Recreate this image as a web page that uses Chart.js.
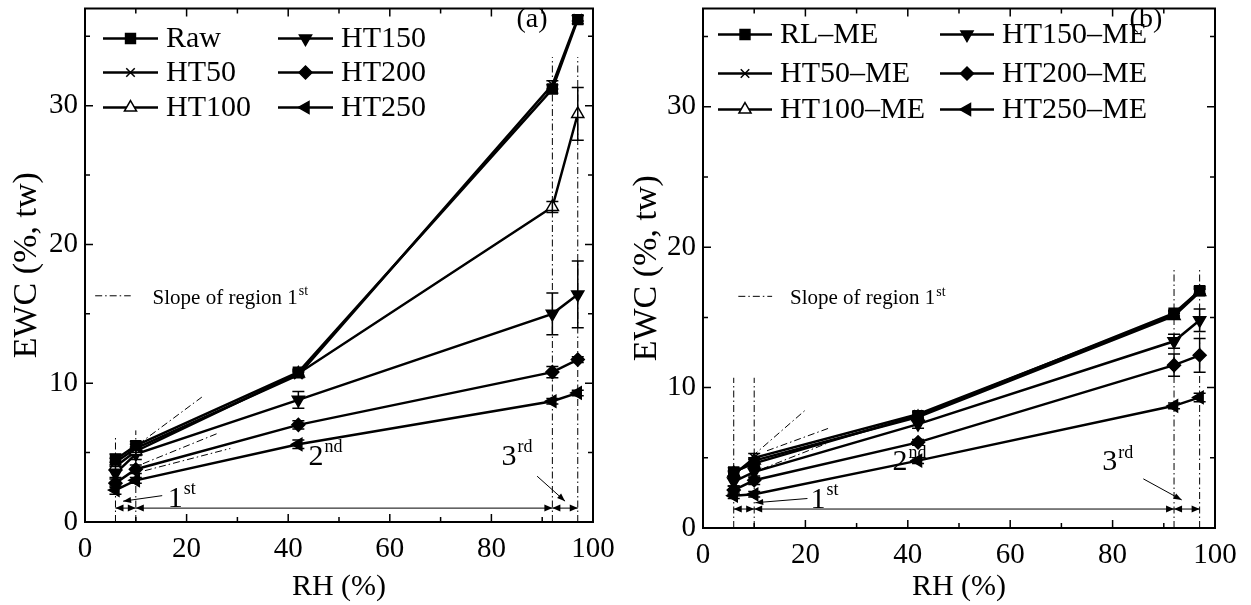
<!DOCTYPE html>
<html>
<head>
<meta charset="utf-8">
<script src="https://cdn.jsdelivr.net/npm/chart.js@4.4.0/dist/chart.umd.min.js"></script>
<style>
  body { margin: 0; background: #fff; width: 1251px; height: 605px; overflow: hidden; position: relative; }
  canvas { position: absolute; top: 0; }
  #ca { left: 0; }
  #cb { left: 620px; }
</style>
</head>
<body>
<canvas id="ca" width="620" height="605"></canvas>
<canvas id="cb" width="631" height="605"></canvas>
<script>
// relative humidity of the sorption points (%)
const rh = [6, 10, 42, 92, 97];

// (a) EWC (%, tw)
const namesA = ["Raw", "HT50", "HT100", "HT150", "HT200", "HT250"];
const raw   = [4.5, 5.5, 10.8, 31.2, 36.2];
const ht50  = [4.3, 5.3, 10.6, 31.5, 36.3];
const ht100 = [4.0, 5.1, 10.7, 22.7, 29.4];
const ht150 = [3.5, 4.9, 8.8, 15.0, 16.4];
const ht200 = [2.8, 3.8, 7.0, 10.8, 11.7];
const ht250 = [2.3, 3.0, 5.6, 8.7, 9.3];
const errA = [
  [0.4, 0.3, 0.2, 0.3, 0.3],
  [0.3, 0.3, 0.2, 0.3, 0.2],
  [0.3, 0.3, 0.2, 0.4, 1.9],
  [0.3, 0.4, 0.6, 1.5, 2.4],
  [0.3, 0.3, 0.3, 0.4, 0.2],
  [0.3, 0.2, 0.3, 0.2, 0.2]
];

// (b) EWC (%, tw) after ME
const namesB = ["RL\u2013ME", "HT50\u2013ME", "HT100\u2013ME", "HT150\u2013ME", "HT200\u2013ME", "HT250\u2013ME"];
const rlMe    = [4.0, 4.6, 8.0, 15.3, 16.9];
const ht50Me  = [3.8, 5.0, 8.1, 15.2, 16.9];
const ht100Me = [3.9, 4.8, 7.9, 15.1, 16.8];
const ht150Me = [3.3, 4.0, 7.4, 13.3, 14.8];
const ht200Me = [2.7, 3.4, 6.1, 11.6, 12.3];
const ht250Me = [2.3, 2.4, 4.8, 8.7, 9.3];
const errB = [
  [0.3, 0.3, 0.2, 0.2, 0.3],
  [0.2, 0.3, 0.2, 0.2, 0.2],
  [0.2, 0.2, 0.2, 0.2, 0.2],
  [0.3, 0.4, 0.3, 0.5, 0.8],
  [0.3, 0.3, 0.2, 0.8, 1.2],
  [0.2, 0.2, 0.2, 0.2, 0.3]
];

// axis ticks
const xTicks = [0, 20, 40, 60, 80, 100];
const yTicks = [0, 10, 20, 30];

// region boundaries and slope guides (RH, EWC)
const regionEdges = [6, 10, 92, 97];
const vTopA = [6.2, 6.6, 33.5, 33.5];
const vTopB = [10.7, 10.7, 18.5, 18.5];
const slopesA = [[10.5, 5.6, 23, 9.0], [11.4, 4.2, 26.2, 6.4], [11.8, 3.7, 28.6, 5.3]];
const slopesB = [[9.6, 5.1, 20, 8.4], [12.5, 5.5, 24.5, 7.1], [11.5, 4.2, 24, 6.0]];

const FONT = "'Liberation Serif', 'Times New Roman', serif";
const markers = [
  { style: "rect", rot: 0, r: 7, fill: "#000" },
  { style: "crossRot", rot: 0, r: 6, fill: "#000" },
  { style: "triangle", rot: 0, r: 7, fill: "#fff" },
  { style: "triangle", rot: 180, r: 7, fill: "#000" },
  { style: "rectRot", rot: 0, r: 6.5, fill: "#000" },
  { style: "triangle", rot: 270, r: 7, fill: "#000" }
];
const DASHDOT = [7, 3, 1.5, 3];

function refLine(points) {
  return {
    data: points, showLine: true, borderColor: "#000", borderWidth: 1,
    borderDash: DASHDOT, pointRadius: 0, order: 5
  };
}

function arrowHead(ctx, x1, y1, x2, y2, len, half) {
  const a = Math.atan2(y2 - y1, x2 - x1);
  ctx.beginPath();
  ctx.moveTo(x2, y2);
  ctx.lineTo(x2 - len * Math.cos(a) + half * Math.sin(a), y2 - len * Math.sin(a) - half * Math.cos(a));
  ctx.lineTo(x2 - len * Math.cos(a) - half * Math.sin(a), y2 - len * Math.sin(a) + half * Math.cos(a));
  ctx.closePath();
  ctx.fill();
}

function supText(ctx, x, y, base, sup, size, supSize) {
  ctx.textAlign = "left";
  ctx.textBaseline = "alphabetic";
  ctx.font = size + "px " + FONT;
  ctx.fillText(base, x, y);
  const w = ctx.measureText(base).width;
  ctx.font = supSize + "px " + FONT;
  ctx.fillText(sup, x + w + 1, y - size * 0.42);
}

const deco = {
  id: "deco",
  afterDatasetsDraw(chart, args, p) {
    const ctx = chart.ctx;
    const xs = chart.scales.x, ys = chart.scales.y;
    const X = v => xs.getPixelForValue(v), Y = v => ys.getPixelForValue(v);
    const a = chart.chartArea;
    ctx.save();
    ctx.strokeStyle = "#000";
    ctx.fillStyle = "#000";

    // error bars
    ctx.lineWidth = 1.5;
    p.series.forEach((vals, i) => {
      vals.forEach((v, j) => {
        const e = p.errs[i][j];
        if (!e) return;
        const x = X(rh[j]), y1 = Y(v - e), y2 = Y(v + e);
        ctx.beginPath();
        ctx.moveTo(x, y1); ctx.lineTo(x, y2);
        ctx.moveTo(x - 6, y1); ctx.lineTo(x + 6, y1);
        ctx.moveTo(x - 6, y2); ctx.lineTo(x + 6, y2);
        ctx.stroke();
      });
    });

    // frame and inward ticks
    ctx.lineWidth = 2;
    ctx.strokeRect(a.left, a.top, a.right - a.left, a.bottom - a.top);
    ctx.lineWidth = 1.5;
    ctx.beginPath();
    for (let v = 0; v <= 100; v += 10) {
      const len = v % 20 === 0 ? 8 : 5;
      const x = X(v);
      ctx.moveTo(x, a.bottom); ctx.lineTo(x, a.bottom - len);
      ctx.moveTo(x, a.top); ctx.lineTo(x, a.top + len);
    }
    for (let v = 0; v <= 35; v += 5) {
      const len = v % 10 === 0 ? 8 : 5;
      const y = Y(v);
      ctx.moveTo(a.left, y); ctx.lineTo(a.left + len, y);
      ctx.moveTo(a.right, y); ctx.lineTo(a.right - len, y);
    }
    ctx.stroke();

    // region arrows
    ctx.lineWidth = 1;
    const ya = Y(p.arrowY);
    for (let k = 0; k < regionEdges.length - 1; k++) {
      const x1 = X(regionEdges[k]), x2 = X(regionEdges[k + 1]);
      ctx.beginPath(); ctx.moveTo(x1, ya); ctx.lineTo(x2, ya); ctx.stroke();
      arrowHead(ctx, x2, ya, x1, ya, 8, 3.5);
      arrowHead(ctx, x1, ya, x2, ya, 8, 3.5);
    }
    // leader arrows
    p.leaders.forEach(l => {
      const x1 = X(l[0]), y1 = Y(l[1]), x2 = X(l[2]), y2 = Y(l[3]);
      ctx.beginPath(); ctx.moveTo(x1, y1); ctx.lineTo(x2, y2); ctx.stroke();
      arrowHead(ctx, x1, y1, x2, y2, 8, 3);
    });

    // region labels
    p.labels.forEach(t => supText(ctx, X(t[0]), Y(t[1]), t[2], t[3], 30, 18));
    supText(ctx, X(p.keyText[0]), Y(p.keyText[1]) + 8, "Slope of region 1", "st", 21, 14);
    ctx.font = "28px " + FONT;
    ctx.textAlign = "center"; ctx.textBaseline = "middle";
    ctx.fillText(p.tag[2], X(p.tag[0]), Y(p.tag[1]));

    // legend
    const draw = Chart.helpers && Chart.helpers.drawPoint;
    ctx.textAlign = "left"; ctx.textBaseline = "middle";
    ctx.font = "30px " + FONT;
    p.names.forEach((n, i) => {
      const col = Math.floor(i / 3), row = i % 3;
      const x0 = a.left + p.legCols[col], y = a.top + p.legRows[row];
      ctx.lineWidth = 2.5;
      ctx.strokeStyle = "#000";
      ctx.beginPath(); ctx.moveTo(x0, y); ctx.lineTo(x0 + p.legLen, y); ctx.stroke();
      const m = markers[i];
      ctx.fillStyle = m.fill; ctx.lineWidth = 1.5;
      if (draw) draw(ctx, { pointStyle: m.style, rotation: m.rot, radius: m.r, borderWidth: 1.5 }, x0 + p.legLen / 2, y);
      ctx.fillStyle = "#000";
      ctx.fillText(n, x0 + p.legLen + 8, y + 1);
    });
    ctx.restore();
  }
};

function panel(id, p) {
  const datasets = p.series.map((vals, i) => ({
    label: p.names[i],
    data: rh.map((x, j) => ({ x: x, y: vals[j] })),
    showLine: true, borderColor: "#000", borderWidth: 2.5,
    pointStyle: markers[i].style, pointRotation: markers[i].rot, pointRadius: markers[i].r,
    pointBackgroundColor: markers[i].fill, pointBorderColor: "#000", pointBorderWidth: 1.5,
    order: 1
  }));
  regionEdges.forEach((x, k) => datasets.push(refLine([{ x: x, y: 0 }, { x: x, y: p.vTop[k] }])));
  p.slopes.forEach(s => datasets.push(refLine([{ x: s[0], y: s[1] }, { x: s[2], y: s[3] }])));
  datasets.push(refLine([{ x: p.key[0], y: p.key[2] }, { x: p.key[1], y: p.key[2] }]));

  new Chart(document.getElementById(id), {
    type: "scatter",
    data: { datasets: datasets },
    options: {
      responsive: false, animation: false, devicePixelRatio: 1,
      layout: { padding: { top: 7, right: p.padRight, left: 0, bottom: 0 } },
      plugins: { legend: { display: false }, tooltip: { enabled: false }, deco: p },
      scales: {
        x: {
          type: "linear", min: 0, max: 100,
          afterBuildTicks: s => { s.ticks = xTicks.map(v => ({ value: v })); },
          afterFit: s => { s.height = p.xHeight; s.paddingLeft = 0; s.paddingRight = 0; },
          grid: { display: false, drawTicks: false, tickLength: 0 }, border: { display: false },
          ticks: { color: "#000", font: { family: FONT, size: 29 }, padding: 10, maxRotation: 0, autoSkip: false },
          title: { display: true, text: "RH (%)", color: "#000", font: { family: FONT, size: 30 }, padding: { top: 11, bottom: 0 } }
        },
        y: {
          type: "linear", min: 0, max: 37,
          afterBuildTicks: s => { s.ticks = yTicks.map(v => ({ value: v })); },
          afterFit: s => { s.width = p.yWidth; s.paddingTop = 0; s.paddingBottom = 0; },
          grid: { display: false, drawTicks: false, tickLength: 0 }, border: { display: false },
          ticks: { color: "#000", font: { family: FONT, size: 29 }, padding: 7 },
          title: { display: true, text: "EWC (%, tw)", color: "#000", font: { family: FONT, size: 34 }, padding: { top: 7, bottom: 0 } }
        }
      }
    },
    plugins: [deco]
  });
}

panel("ca", {
  names: namesA, series: [raw, ht50, ht100, ht150, ht200, ht250], errs: errA,
  vTop: vTopA, slopes: slopesA, key: [2, 9, 16.3], keyText: [13.3, 16.3],
  arrowY: 1.0,
  leaders: [[15.2, 1.9, 7.5, 1.5], [89, 3.3, 94.5, 1.5]],
  labels: [[16.3, 1.1, "1", "st"], [44, 4.1, "2", "nd"], [82, 4.1, "3", "rd"]],
  tag: [88, 36.2, "(a)"],
  legCols: [18, 193], legRows: [30, 64, 99], legLen: 55,
  padRight: 27, xHeight: 83, yWidth: 85
});

panel("cb", {
  names: namesB, series: [rlMe, ht50Me, ht100Me, ht150Me, ht200Me, ht250Me], errs: errB,
  vTop: vTopB, slopes: slopesB, key: [6.9, 13.5, 16.5], keyText: [17, 16.5],
  arrowY: 1.35,
  leaders: [[20.4, 2.1, 10.2, 1.8], [86, 3.5, 93.5, 2.0]],
  labels: [[21, 1.45, "1", "st"], [37, 4.1, "2", "nd"], [78, 4.1, "3", "rd"]],
  tag: [86.5, 36.2, "(b)"],
  legCols: [15, 237], legRows: [26, 65, 101], legLen: 54,
  padRight: 36, xHeight: 77, yWidth: 83
});
</script>
</body>
</html>
